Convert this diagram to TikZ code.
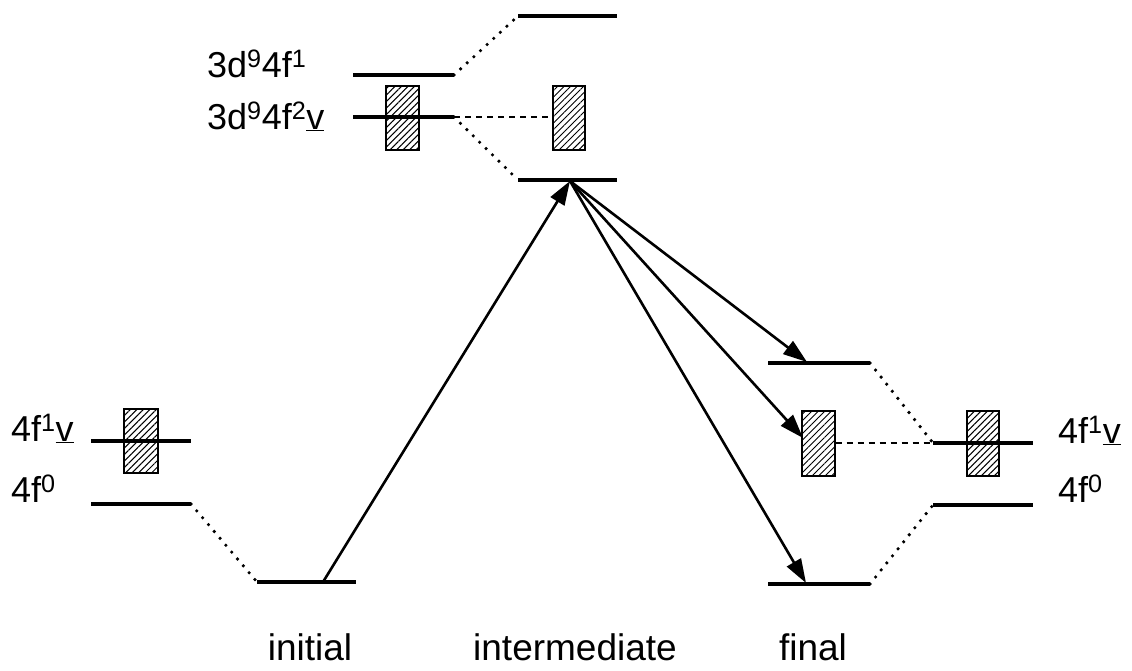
\documentclass[tikz,border=0pt]{standalone}
\usepackage{fontspec}
\setmainfont{Liberation Sans}
\usetikzlibrary{arrows.meta,patterns.meta}
\begin{document}
\begin{tikzpicture}[x=1pt,y=-1pt,
  level/.style={line width=3.6pt},
  dotline/.style={line width=3.6pt,line cap=round,dash pattern=on 0pt off 9pt},
  dashline/.style={line width=1.6pt,dash pattern=on 6pt off 5pt},
  hbox/.style={draw,line width=1.5pt,fill=white,
    postaction={pattern={Lines[angle=45,distance=4.6pt,line width=1pt]}}},
  trans/.style={line width=2.6pt,-{Triangle[length=24pt,width=16pt]}},
  lab/.style={font=\fontsize{36}{43}\selectfont,inner sep=0pt,anchor=base west},
  blab/.style={font=\fontsize{37}{44}\selectfont,inner sep=0pt,anchor=base}]
\useasboundingbox (0,0) rectangle (1132,670);
% boxes
\draw[hbox] (124,409) rectangle (158,473);
\draw[hbox] (386,86) rectangle (419,150);
\draw[hbox] (553,86) rectangle (585,150);
\node[inner sep=0pt] (mbox) at (553,117) {};
\draw[hbox] (802,411) rectangle (835,476);
\node[inner sep=0pt] (fbox) at (835,443) {};
\draw[hbox] (967,411) rectangle (999,476);
% level coordinates
\coordinate (i0a) at (257,582); \coordinate (i0b) at (356,582);
\coordinate (l0a) at (91,504);  \coordinate (l0b) at (191,504);
\coordinate (l1a) at (91,441);  \coordinate (l1b) at (191,441);
\coordinate (t1a) at (353,75);  \coordinate (t1b) at (454,75);
\coordinate (t2a) at (353,117); \coordinate (t2b) at (454,117);
\coordinate (m0a) at (518,16);  \coordinate (m0b) at (617,16);
\coordinate (m1a) at (518,180); \coordinate (m1b) at (617,180);
\coordinate (f0a) at (768,363); \coordinate (f0b) at (870,363);
\coordinate (f1a) at (768,584); \coordinate (f1b) at (870,584);
\coordinate (r1a) at (933,443); \coordinate (r1b) at (1033,443);
\coordinate (r0a) at (933,505); \coordinate (r0b) at (1033,505);
% levels
\foreach \p in {i0,l0,l1,t1,t2,m0,m1,f0,f1,r1,r0} \draw[level] (\p a) -- (\p b);
% correlation lines
\draw[dotline] (l0b) -- (i0a);
\draw[dotline] (t1b) -- (m0a);
\draw[dotline] (t2b) -- (m1a);
\draw[dashline] (t2b) -- (mbox);
\draw[dotline] (f0b) -- (r1a);
\draw[dashline] (fbox) -- (r1a);
\draw[dotline] (f1b) -- (r0a);
% transitions
\coordinate (start) at (323,582);
\coordinate (mid) at (570,181);
\coordinate (e1) at (807,362);
\coordinate (e2) at (803,438);
\coordinate (e3) at (806,583);
\draw[trans] (start) -- (mid);
\draw[trans] (mid) -- (e1);
\draw[trans] (mid) -- (e2);
\draw[trans] (mid) -- (e3);
% labels
\node[lab] (lt1) at (207,77) {3d\textsuperscript{9}4f\textsuperscript{1}};
\node[lab] (lt2) at (207,129) {3d\textsuperscript{9}4f\textsuperscript{2}\underline{v}};
\node[lab] (ll1) at (11,441) {4f\textsuperscript{1}\underline{v}};
\node[lab] (ll0) at (11,502) {4f\textsuperscript{0}};
\node[lab] (lr1) at (1058,443) {4f\textsuperscript{1}\underline{v}};
\node[lab] (lr0) at (1058,502) {4f\textsuperscript{0}};
\node[blab] (bi) at (310,660) {initial};
\node[blab] (bm) at (575,660) {intermediate};
\node[blab] (bf) at (813,660) {final};
\end{tikzpicture}
\end{document}
